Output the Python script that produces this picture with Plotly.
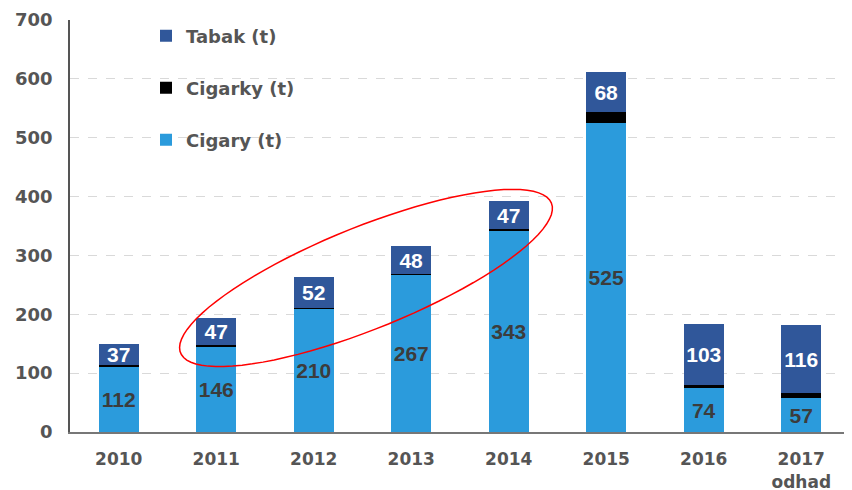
import numpy as np
import plotly.graph_objects as go

# data
roky = ["2010", "2011", "2012", "2013", "2014", "2015", "2016", "2017<br>odhad"]
cigary = [112, 146, 210, 267, 343, 525, 74, 57]
cigarky = [1, 1, 1, 1, 2, 18, 6, 9]
tabak = [37, 47, 52, 48, 47, 68, 103, 116]

C_CIGARY = "#2b9bdc"
C_CIGARKY = "#000000"
C_TABAK = "#30579a"
SEDA = "#555555"
FONT = "DejaVu Sans, Arial, sans-serif"
FONT_BAR = "Liberation Sans, Arial, sans-serif"

W, H = 852, 490
OFF = 8  # page body margin
# plot area on screen: x 70..850, y 20..432
L, T = 70 - OFF, 20 - OFF
R, B = W - (850 - OFF), H - (432 - OFF)
pw, ph = W - L - R, H - T - B

fig = go.Figure()
fig.add_bar(x=roky, y=cigary, name="Cigary (t)", marker_color=C_CIGARY,
            text=cigary, textposition="inside", insidetextanchor="middle",
            constraintext="none", textangle=0,
            textfont=dict(color="#3c3c3c", size=21, family=FONT_BAR, weight="bold"),
            legend="legend3")
fig.add_bar(x=roky, y=cigarky, name="Cigarky (t)", marker_color=C_CIGARKY,
            legend="legend2", hoverinfo="y")
fig.add_bar(x=roky, y=tabak, name="Tabak (t)", marker_color=C_TABAK,
            text=tabak, textposition="inside", insidetextanchor="middle",
            constraintext="none", textangle=0,
            textfont=dict(color="white", size=21, family=FONT_BAR, weight="bold"),
            legend="legend")
fig.update_traces(marker_line_width=0)


def to_paper(sx, sy):
    return (sx - OFF - L) / pw, (H - B - (sy - OFF)) / ph


# red ellipse around 2011-2014 (screen pixels -> paper)
cx, cy, a, b, th = 366, 278, 200, 51, np.radians(-22)
t = np.linspace(0, 2 * np.pi, 90)
ex = cx + a * np.cos(t) * np.cos(th) - b * np.sin(t) * np.sin(th)
ey = cy + a * np.cos(t) * np.sin(th) + b * np.sin(t) * np.cos(th)
px, py = to_paper(ex, ey)
path = "M " + " L ".join(f"{u:.4f},{v:.4f}" for u, v in zip(px, py)) + " Z"
fig.add_shape(type="path", path=path, xref="paper", yref="paper",
              line=dict(color="red", width=1.5))

lx = to_paper(146, 0)[0]
leg = dict(x=lx, xanchor="left", yanchor="middle", bgcolor="rgba(0,0,0,0)",
           font=dict(size=18, color=SEDA, family=FONT, weight="bold"),
           itemwidth=30)
fig.update_layout(
    width=W, height=H,
    margin=dict(l=L, r=R, t=T, b=B, autoexpand=False),
    paper_bgcolor="white", plot_bgcolor="white",
    barmode="stack", bargap=0.59,
    font=dict(family=FONT),
    showlegend=True,
    legend=dict(leg, y=to_paper(0, 36)[1]),
    legend2=dict(leg, y=to_paper(0, 88)[1]),
    legend3=dict(leg, y=to_paper(0, 140)[1]),
    xaxis=dict(showline=True, linecolor="#777777", linewidth=2,
               automargin=False, ticklabelstandoff=11,
               tickfont=dict(size=17, color=SEDA, family=FONT, weight="bold"),
               ticks=""),
    yaxis=dict(range=[0, 700], dtick=100, showline=True, linecolor="#555555",
               linewidth=1.5, showgrid=True, gridcolor="#d9d9d9",
               automargin=False,
               griddash="dash", zeroline=False, ticks="",
               tickfont=dict(size=18, color=SEDA, family=FONT, weight="bold"),
               ticklabelstandoff=12),
)

fig.write_html("out.html")
